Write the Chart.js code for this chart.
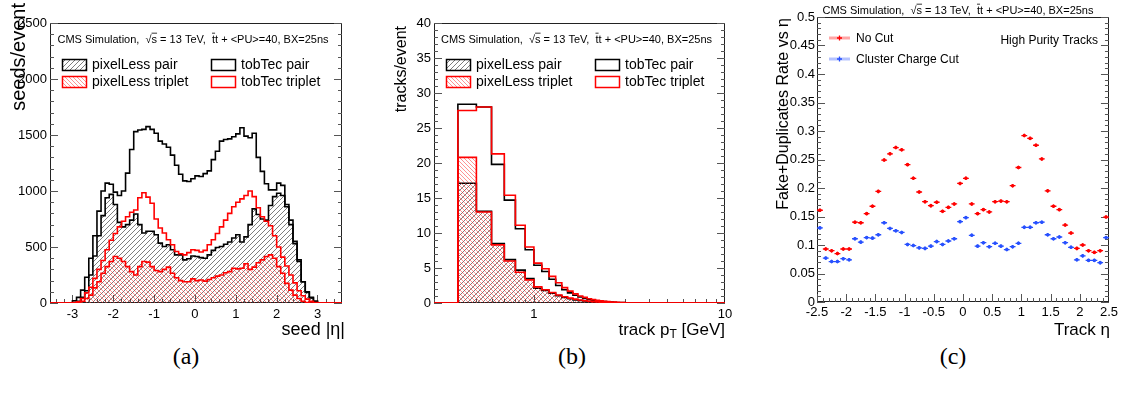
<!DOCTYPE html>
<html><head>
<meta charset="UTF-8">
<title>Seeding and tracking plots</title>
<script src="https://cdn.jsdelivr.net/npm/chart.js"></script>
<style>
  html, body { margin: 0; padding: 0; background: #fff; }
  body { width: 1121px; height: 394px; position: relative; overflow: hidden; }
  .panel { position: absolute; top: 0; height: 340px; }
  .caption { position: absolute; top: 341px; width: 60px; text-align: center; line-height: 30px;
             font-family: "Liberation Serif", "Times New Roman", serif; font-size: 24px; color: #000; }
</style>
</head>
<body>
<div class="panel" style="left:0;width:370px"><canvas id="seedChart"></canvas></div>
<div class="panel" style="left:370px;width:380px"><canvas id="ptChart"></canvas></div>
<div class="panel" style="left:750px;width:371px"><canvas id="fakeChart"></canvas></div>
<div class="caption" style="left:156px">(a)</div>
<div class="caption" style="left:542px">(b)</div>
<div class="caption" style="left:923px">(c)</div>

<script>
// ---- data ----
// (a) seeds per event vs eta, bins of 0.1 (lower edges)
const seedEta = [-3.0,-2.9,-2.8,-2.7,-2.6,-2.5,-2.4,-2.3,-2.2,-2.1,-2.0,-1.9,-1.8,-1.7,-1.6,-1.5,-1.4,-1.3,-1.2,-1.1,
                 -1.0,-0.9,-0.8,-0.7,-0.6,-0.5,-0.4,-0.3,-0.2,-0.1,0.0,0.1,0.2,0.3,0.4,0.5,0.6,0.7,0.8,0.9,
                 1.0,1.1,1.2,1.3,1.4,1.5,1.6,1.7,1.8,1.9,2.0,2.1,2.2,2.3,2.4,2.5,2.6,2.7,2.8,2.9];
const seedPixelLessPair = [5,15,50,110,250,420,600,780,940,970, 880,720,680,700,740,795,700,625,640,640,
                           610,535,505,520,475,430,430,385,395,420, 415,405,400,430,470,495,505,525,545,580,
                           610,545,590,700,840,790,750,740,870,950, 980,960,860,700,530,370,190,95,45,15];
const seedTobTecPair = [20,50,115,230,400,600,820,1000,1070,1060, 990,960,1000,1160,1370,1530,1545,1550,1575,1550,
                        1515,1445,1420,1390,1320,1230,1150,1090,1085,1110, 1135,1130,1155,1180,1280,1355,1445,1460,1465,1485,
                        1510,1565,1490,1475,1515,1300,1175,1065,1010,1010, 1070,1050,880,740,550,385,190,100,50,15];
const seedPixelLessTriplet = [0,5,15,40,70,135,190,265,325,370, 415,400,370,325,280,250,325,370,365,325,
                              290,280,300,320,265,225,200,190,190,215, 200,205,195,210,225,240,250,270,280,310,
                              305,310,350,300,320,360,385,415,430,400, 325,265,175,115,70,40,15,5,0,0];
const seedTobTecTriplet = [5,10,40,90,140,220,300,380,475,560, 620,680,730,770,810,830,940,985,945,890,
                           750,670,625,565,520,460,440,430,450,475, 470,455,470,520,565,620,680,740,800,860,
                           900,930,960,1000,950,850,770,730,690,600, 500,410,330,250,180,110,65,35,15,5];

// (b) tracks per event vs pT [GeV], bins of 0.1 (lower edges)
const trackPt = [0.4,0.5,0.6,0.7,0.8,0.9,1.0,1.1,1.2,1.3,1.4,1.5,1.6,1.7,1.8,1.9,2.0,2.1,2.2,2.3,2.4,2.5,2.6,2.7,2.8,2.9];
const ptPixelLessPair = [17.1,13.1,8.5,6.2,4.7,3.5,2.1,1.8,1.4,1.05,0.8,0.6,0.45,0.35,0.28,0.22,0.17,0.14,0.11,0.09,0.07,0.05,0.04,0.03,0.02,0.02];
const ptTobTecPair = [28.4,28.0,19.8,14.7,10.6,7.6,5.4,4.5,3.4,2.5,1.9,1.45,1.1,0.85,0.65,0.5,0.4,0.3,0.25,0.2,0.15,0.12,0.1,0.08,0.06,0.05];
const ptPixelLessTriplet = [20.8,13.0,8.3,6.0,4.4,3.3,2.3,1.9,1.5,1.15,0.9,0.7,0.55,0.42,0.33,0.26,0.2,0.16,0.13,0.1,0.08,0.06,0.05,0.04,0.03,0.02];
const ptTobTecTriplet = [27.5,28.0,21.3,15.4,11.1,8.0,5.7,4.9,3.8,2.9,2.2,1.7,1.3,1.0,0.8,0.6,0.48,0.38,0.3,0.24,0.19,0.15,0.12,0.1,0.08,0.06];

// (c) fake+duplicate rate vs track eta (bin centres)
const trackEta = [-2.45,-2.35,-2.25,-2.15,-2.05,-1.95,-1.85,-1.75,-1.65,-1.55,-1.45,-1.35,-1.25,-1.15,-1.05,-0.95,-0.85,-0.75,-0.65,-0.55,
                  -0.45,-0.35,-0.25,-0.15,-0.05,0.05,0.15,0.25,0.35,0.45,0.55,0.65,0.75,0.85,0.95,1.05,1.15,1.25,1.35,1.45,
                  1.55,1.65,1.75,1.85,1.95,2.05,2.15,2.25,2.35,2.45];
const rateNoCut = [0.161,0.093,0.090,0.085,0.093,0.093,0.140,0.139,0.155,0.168,0.194,0.249,0.260,0.271,0.267,0.241,0.217,0.193,0.176,0.169,
                   0.175,0.159,0.166,0.172,0.208,0.217,0.172,0.155,0.162,0.158,0.176,0.177,0.176,0.204,0.236,0.292,0.287,0.275,0.251,0.195,
                   0.168,0.162,0.135,0.121,0.094,0.100,0.090,0.087,0.090,0.149];
const rateChargeCut = [0.130,0.077,0.071,0.071,0.076,0.074,0.111,0.105,0.113,0.112,0.118,0.139,0.129,0.125,0.122,0.101,0.099,0.095,0.094,0.098,
                       0.106,0.101,0.107,0.111,0.141,0.148,0.117,0.098,0.104,0.097,0.103,0.098,0.092,0.097,0.103,0.131,0.131,0.139,0.140,0.118,
                       0.111,0.114,0.104,0.096,0.074,0.081,0.073,0.073,0.069,0.113];
const rateErr = 0.003;
const etaHalfBin = 0.05;

const FONT = '"Liberation Sans", Arial, Helvetica, sans-serif';
const RED = '#ff0000', BLACK = '#000000', BLUE = '#2750ff';
Chart.defaults.font.family = FONT;
Chart.defaults.color = '#000';

// hatch fills like ROOT's fill styles 3004 / 3005
function hatch(color, dir, gap) {
  const c = document.createElement('canvas');
  c.width = c.height = gap;
  const g = c.getContext('2d');
  g.strokeStyle = color;
  g.lineWidth = 1;
  g.beginPath();
  if (dir > 0) {
    g.moveTo(0, gap); g.lineTo(gap, 0);
    g.moveTo(-1, 1); g.lineTo(1, -1);
    g.moveTo(gap - 1, gap + 1); g.lineTo(gap + 1, gap - 1);
  } else {
    g.moveTo(0, 0); g.lineTo(gap, gap);
    g.moveTo(gap - 1, -1); g.lineTo(gap + 1, 1);
    g.moveTo(-1, gap - 1); g.lineTo(1, gap + 1);
  }
  g.stroke();
  return g.createPattern(c, 'repeat');
}
const blackHatch = hatch('rgba(40,40,40,0.6)', 1, 5);
const redHatch = hatch('rgba(255,40,40,0.5)', -1, 4);

// histogram outline points: start of range, bin lower edges, last upper edge, end of range
function histPoints(edges, values, width, lo, hi) {
  const pts = [{x: lo, y: 0}];
  edges.forEach((e, i) => pts.push({x: e, y: values[i]}));
  pts.push({x: edges[edges.length - 1] + width, y: 0});
  pts.push({x: hi, y: 0});
  return pts;
}
function histSet(label, pts, color, pattern, order) {
  return {
    label, data: pts, borderColor: color, borderWidth: 1.6, stepped: true,
    pointRadius: 0, pointHoverRadius: 0, fill: pattern ? 'origin' : false,
    backgroundColor: pattern || 'rgba(0,0,0,0)', order
  };
}
function steps(a, b, s) {
  const out = [];
  for (let v = a; v <= b + 1e-9; v += s) out.push(+v.toFixed(6));
  return out;
}

// ROOT-like frame with inward ticks
const tickSpec = {
  seedChart: {xMajor: steps(-3, 3, 1), xMinor: steps(-3.4, 3.6, 0.2), yMajor: steps(0, 2500, 500), yMinor: steps(0, 2500, 100)},
  ptChart: {xMajor: [1, 10], xMinor: [0.3,0.4,0.5,0.6,0.7,0.8,0.9,2,3,4,5,6,7,8,9], yMajor: steps(0, 40, 5), yMinor: steps(0, 40, 1)},
  fakeChart: {xMajor: steps(-2.5, 2.5, 0.5), xMinor: steps(-2.5, 2.5, 0.1), yMajor: steps(0, 0.5, 0.05), yMinor: steps(0, 0.5, 0.01)}
};
const rootFrame = {
  id: 'rootFrame',
  beforeDatasetsDraw(chart) {
    const spec = tickSpec[chart.canvas.id];
    const {ctx, chartArea: a, scales: {x, y}} = chart;
    ctx.save();
    ctx.strokeStyle = '#222';
    ctx.lineWidth = 1;
    ctx.strokeRect(Math.round(a.left) + 0.5, Math.round(a.top) + 0.5, Math.round(a.width) - 1, Math.round(a.height) - 1);
    ctx.strokeStyle = '#555';
    ctx.beginPath();
    const xt = (v, len) => {
      const px = Math.round(x.getPixelForValue(v)) + 0.5;
      if (px < a.left || px > a.right) return;
      ctx.moveTo(px, a.bottom); ctx.lineTo(px, a.bottom - len);
    };
    const yt = (v, len) => {
      const py = Math.round(y.getPixelForValue(v)) + 0.5;
      ctx.moveTo(a.left, py); ctx.lineTo(a.left + len, py);
      ctx.moveTo(a.right, py); ctx.lineTo(a.right - len, py);
    };
    spec.xMinor.forEach(v => xt(v, 4));
    spec.xMajor.forEach(v => xt(v, 8));
    spec.yMinor.forEach(v => yt(v, 4));
    spec.yMajor.forEach(v => yt(v, 8));
    ctx.stroke();
    ctx.restore();
  }
};
Chart.register(rootFrame);

function drawCMS(ctx, cx, cy, size) {
  const parts = [['CMS Simulation,  ', 0], ['\u221A', 0], ['s', 1], [' = 13 TeV,  ', 0], ['t', 1], ['t + <PU>=40, BX=25ns', 0]];
  ctx.save();
  ctx.font = size + 'px ' + FONT;
  ctx.fillStyle = '#000'; ctx.strokeStyle = '#000';
  ctx.textAlign = 'left'; ctx.textBaseline = 'middle';
  const total = parts.reduce((w, p) => w + ctx.measureText(p[0]).width, 0);
  let x = cx - total / 2;
  parts.forEach(([t, bar]) => {
    const w = ctx.measureText(t).width;
    ctx.fillText(t, x, cy);
    if (bar) {
      ctx.beginPath(); ctx.lineWidth = 0.8;
      ctx.moveTo(x, cy - size * 0.62); ctx.lineTo(x + w, cy - size * 0.62); ctx.stroke();
    }
    x += w;
  });
  ctx.restore();
}
function yTitle(ctx, text, x, yTop, size) {
  ctx.save();
  ctx.font = size + 'px ' + FONT;
  ctx.fillStyle = '#000';
  ctx.translate(x, yTop);
  ctx.rotate(-Math.PI / 2);
  ctx.textAlign = 'right'; ctx.textBaseline = 'middle';
  ctx.fillText(text, 0, 0);
  ctx.restore();
}
// pieces: [text, isSubscript]; drawn right-aligned at xRight
function xTitle(ctx, pieces, xRight, y, size) {
  ctx.save();
  ctx.fillStyle = '#000';
  ctx.textAlign = 'left'; ctx.textBaseline = 'middle';
  const fontOf = sub => (sub ? Math.round(size * 0.7) : size) + 'px ' + FONT;
  let total = 0;
  pieces.forEach(([t, sub]) => { ctx.font = fontOf(sub); total += ctx.measureText(t).width; });
  let x = xRight - total;
  pieces.forEach(([t, sub]) => {
    ctx.font = fontOf(sub);
    ctx.fillText(t, x, sub ? y + size * 0.3 : y);
    x += ctx.measureText(t).width;
  });
  ctx.restore();
}
// two-column legend with boxes, in dataset order
function histLegend(chart) {
  const {ctx, chartArea: a} = chart;
  ctx.save();
  ctx.font = '14px ' + FONT;
  ctx.textAlign = 'left'; ctx.textBaseline = 'middle';
  chart.data.datasets.forEach((ds, i) => {
    const bx = a.left + 12 + (i % 2) * 149;
    const cy = a.top + 42 + Math.floor(i / 2) * 17;
    if (ds.fill) { ctx.fillStyle = ds.backgroundColor; ctx.fillRect(bx, cy - 5, 24, 11); }
    ctx.strokeStyle = ds.borderColor; ctx.lineWidth = 1.5;
    ctx.strokeRect(bx + 0.5, cy - 5.5, 24, 11);
    ctx.fillStyle = '#000';
    ctx.fillText(ds.label, bx + 30, cy + 0.5);
  });
  ctx.restore();
}

function linearAxis(min, max, ticks, fmt, size, pad) {
  return {
    type: 'linear', min, max,
    grid: {display: false, drawTicks: false}, border: {display: false},
    afterBuildTicks: s => { s.ticks = ticks.map(v => ({value: v})); },
    ticks: {font: {size: 13}, color: '#000', padding: pad, maxRotation: 0, autoSkip: false, callback: fmt},
    afterFit: s => { if (s.isHorizontal()) s.height = size; else s.width = size; }
  };
}
const plainNum = v => String(+(+v).toFixed(3));

// ---- (a) seeds vs eta ----
new Chart(document.getElementById('seedChart'), {
  type: 'line',
  data: {
    datasets: [
      histSet('pixelLess pair', histPoints(seedEta, seedPixelLessPair, 0.1, -3.55, 3.6), BLACK, blackHatch, 4),
      histSet('tobTec pair', histPoints(seedEta, seedTobTecPair, 0.1, -3.55, 3.6), BLACK, null, 3),
      histSet('pixelLess triplet', histPoints(seedEta, seedPixelLessTriplet, 0.1, -3.55, 3.6), RED, redHatch, 2),
      histSet('tobTec triplet', histPoints(seedEta, seedTobTecTriplet, 0.1, -3.55, 3.6), RED, null, 1)
    ]
  },
  options: {
    responsive: true, maintainAspectRatio: false, animation: false,
    layout: {padding: {top: 23, right: 28, left: 0, bottom: 0}},
    plugins: {legend: {display: false}, tooltip: {enabled: false}},
    scales: {
      x: linearAxis(-3.55, 3.6, steps(-3, 3, 1), plainNum, 37, 4),
      y: linearAxis(0, 2500, steps(0, 2500, 500), plainNum, 50, 3)
    }
  },
  plugins: [{
    id: 'decorA',
    afterDraw(chart) {
      const {ctx, chartArea: a} = chart;
      drawCMS(ctx, (a.left + a.right) / 2 - 3, a.top + 17, 11);
      histLegend(chart);
      yTitle(ctx, 'seeds/event', 19, 3, 20);
      xTitle(ctx, [['seed |\u03B7|', 0]], a.right + 3, 330, 18);
    }
  }]
});

// ---- (b) tracks vs pT ----
new Chart(document.getElementById('ptChart'), {
  type: 'line',
  data: {
    datasets: [
      histSet('pixelLess pair', histPoints(trackPt, ptPixelLessPair, 0.1, 0.3, 10), BLACK, blackHatch, 4),
      histSet('tobTec pair', histPoints(trackPt, ptTobTecPair, 0.1, 0.3, 10), BLACK, null, 3),
      histSet('pixelLess triplet', histPoints(trackPt, ptPixelLessTriplet, 0.1, 0.3, 10), RED, redHatch, 2),
      histSet('tobTec triplet', histPoints(trackPt, ptTobTecTriplet, 0.1, 0.3, 10), RED, null, 1)
    ]
  },
  options: {
    responsive: true, maintainAspectRatio: false, animation: false,
    layout: {padding: {top: 23, right: 25, left: 0, bottom: 0}},
    plugins: {legend: {display: false}, tooltip: {enabled: false}},
    scales: {
      x: Object.assign(linearAxis(0.3, 10, [1, 10], plainNum, 37, 4), {type: 'logarithmic'}),
      y: linearAxis(0, 40, steps(0, 40, 5), plainNum, 64, 3)
    }
  },
  plugins: [{
    id: 'decorB',
    afterDraw(chart) {
      const {ctx, chartArea: a} = chart;
      drawCMS(ctx, (a.left + a.right) / 2 - 3, a.top + 17, 11);
      histLegend(chart);
      yTitle(ctx, 'tracks/event', 32, 26, 16);
      xTitle(ctx, [['track p', 0], ['T', 1], [' [GeV]', 0]], a.right, 330, 17);
    }
  }]
});

// ---- (c) fake + duplicate rate ----
const errBars = {
  id: 'errBars',
  beforeDatasetsDraw(chart) {
    const {ctx, scales: {x, y}} = chart;
    ctx.save();
    ctx.lineWidth = 1.3;
    chart.data.datasets.forEach(ds => {
      ctx.strokeStyle = ds.borderColor;
      ctx.beginPath();
      ds.data.forEach(p => {
        const py = y.getPixelForValue(p.y), px = x.getPixelForValue(p.x);
        ctx.moveTo(x.getPixelForValue(p.x - etaHalfBin), py);
        ctx.lineTo(x.getPixelForValue(p.x + etaHalfBin), py);
        ctx.moveTo(px, y.getPixelForValue(p.y - rateErr));
        ctx.lineTo(px, y.getPixelForValue(p.y + rateErr));
      });
      ctx.stroke();
    });
    ctx.restore();
  }
};
new Chart(document.getElementById('fakeChart'), {
  type: 'scatter',
  data: {
    datasets: [
      {label: 'No Cut', data: trackEta.map((e, i) => ({x: e, y: rateNoCut[i]})),
       borderColor: RED, backgroundColor: RED, pointRadius: 1.8, pointBorderWidth: 0, legendLine: 'rgba(255,0,0,0.35)'},
      {label: 'Cluster Charge Cut', data: trackEta.map((e, i) => ({x: e, y: rateChargeCut[i]})),
       borderColor: BLUE, backgroundColor: BLUE, pointRadius: 1.8, pointBorderWidth: 0, legendLine: 'rgba(39,80,255,0.35)'}
    ]
  },
  options: {
    responsive: true, maintainAspectRatio: false, animation: false,
    layout: {padding: {top: 17, right: 12, left: 0, bottom: 0}},
    plugins: {legend: {display: false}, tooltip: {enabled: false}},
    scales: {
      x: linearAxis(-2.5, 2.5, steps(-2.5, 2.5, 0.5), plainNum, 38, 3),
      y: linearAxis(0, 0.5, steps(0, 0.5, 0.05), plainNum, 67, 2)
    }
  },
  plugins: [errBars, {
    id: 'decorC',
    afterDraw(chart) {
      const {ctx, chartArea: a} = chart;
      drawCMS(ctx, (a.left + a.right) / 2 - 5, a.top - 6, 11);
      ctx.save();
      ctx.font = '12px ' + FONT;
      ctx.textBaseline = 'middle';
      chart.data.datasets.forEach((ds, i) => {
        const cy = a.top + 21 + i * 21;
        ctx.strokeStyle = ds.legendLine; ctx.lineWidth = 3;
        ctx.beginPath(); ctx.moveTo(a.left + 12, cy); ctx.lineTo(a.left + 33, cy); ctx.stroke();
        ctx.strokeStyle = ds.borderColor; ctx.lineWidth = 1.3;
        ctx.beginPath(); ctx.moveTo(a.left + 20, cy); ctx.lineTo(a.left + 25, cy);
        ctx.moveTo(a.left + 22.5, cy - 2.5); ctx.lineTo(a.left + 22.5, cy + 2.5); ctx.stroke();
        ctx.fillStyle = '#000'; ctx.textAlign = 'left';
        ctx.fillText(ds.label, a.left + 39, cy + 0.5);
      });
      ctx.textAlign = 'right';
      ctx.fillText('High Purity Tracks', a.right - 11, a.top + 24);
      ctx.restore();
      yTitle(ctx, 'Fake+Duplicates Rate vs \u03B7', 34, 18, 16);
      xTitle(ctx, [['Track \u03B7', 0]], a.right + 1, 330, 17);
    }
  }]
});
</script>
</body></html>
